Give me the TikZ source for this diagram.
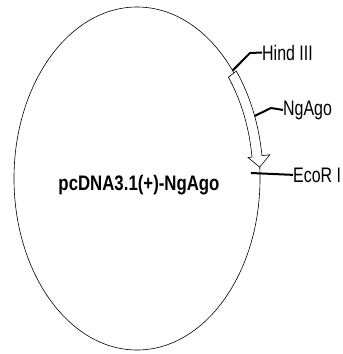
\documentclass[tikz,border=0pt]{standalone}
\usepackage{fontspec}
\setmainfont{Liberation Sans}
\newcommand{\narrow}[1]{\scalebox{0.76}[1]{#1}}
\begin{document}
\begin{tikzpicture}
	[x=1pt, y=-1pt, font=\fontsize{21}{25}\selectfont,
	 site/.style={anchor=base west, inner sep=0pt},
	 lead/.style={line width=2pt}]
	\useasboundingbox (0,0) rectangle (343,354);
	\draw[line width=0.6pt] (137,178.5) ellipse [x radius=123, y radius=171.5];
	% gene arrow
	\filldraw[fill=white, line width=0.6pt]
		plot[domain=38:7.5, samples=30] ({137+126*cos(\x)},{178.5-174.5*sin(\x)})
		-- ({137+134*cos(7.5)},{178.5-182.5*sin(7.5)})
		-- ({137+123*cos(3.8)},{178.5-171.5*sin(3.8)})
		-- ({137+112*cos(7.5)},{178.5-160.5*sin(7.5)})
		-- plot[domain=7.5:38, samples=30] ({137+116*cos(\x)},{178.5-164.5*sin(\x)})
		-- cycle;
	\node[site] (hind) at (262,60) {\narrow{Hind III}};
	\node[site] (ngago) at (283,115) {\narrow{NgAgo}};
	\node[site] (ecor) at (293,182) {\narrow{EcoR I}};
	\node[anchor=base, inner sep=0pt, font=\fontsize{21}{25}\selectfont\bfseries] (plasmid) at (139,190) {\scalebox{0.8}[1]{pcDNA3.1(+)-NgAgo}};
	\coordinate (s1) at ({137+123*cos(39)},{178.5-171.5*sin(39)});
	\coordinate (s2) at ({137+126*cos(21)},{178.5-174.5*sin(21)});
	\coordinate (s3) at (251,173);
	\draw[lead] (s1) -- (250,53) -- (hind.west);
	\draw[lead] (s2) -- (271,108) -- (ngago.west);
	\draw[lead] (s3) -- (ecor.west);
\end{tikzpicture}
\end{document}
